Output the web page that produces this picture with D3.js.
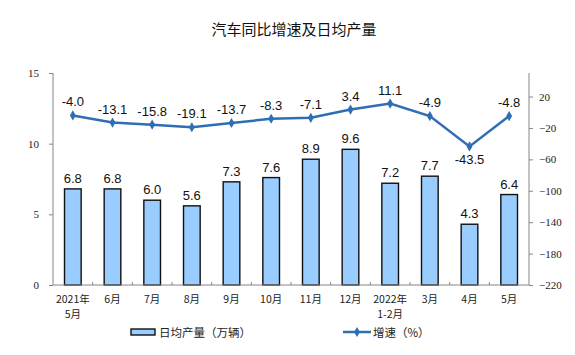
<!DOCTYPE html>
<html><head><meta charset="utf-8">
<script src="https://cdn.jsdelivr.net/npm/d3@7"></script>
<style>body{margin:0;background:#fff}</style>
</head><body>
<svg id="c" width="575" height="355"></svg>
<script>
const categories = [["2021年","5月"],["6月"],["7月"],["8月"],["9月"],["10月"],["11月"],["12月"],["2022年","1-2月"],["3月"],["4月"],["5月"]];
const dailyOutput = [6.8, 6.8, 6.0, 5.6, 7.3, 7.6, 8.9, 9.6, 7.2, 7.7, 4.3, 6.4];
const growth = [-4.0, -13.1, -15.8, -19.1, -13.7, -8.3, -7.1, 3.4, 11.1, -4.9, -43.5, -4.8];
const leftTicks = [0, 5, 10, 15];
const rightTicks = [20, -20, -60, -100, -140, -180, -220];
const title = "汽车同比增速及日均产量";
const legendBar = "日均产量（万辆）";
const legendLine = "增速（%）";

const svg = d3.select("#c");
const L = 53, R = 529, T = 73, B = 285;
const axisColor = "#868686";
const lineColor = "#2F6DB5";
const cjk = "'Noto Sans CJK SC', sans-serif";
const serif = "'Liberation Serif', 'DejaVu Serif', serif";
const sans = "'Liberation Sans', Arial, sans-serif";

const x = d3.scaleBand().domain(d3.range(categories.length)).range([L, R]).paddingInner(0).paddingOuter(0);
const yL = d3.scaleLinear().domain([0, 15]).range([B, T]);
const yR = d3.scaleLinear().domain([-220, 50]).range([B, T]);

svg.append("text").attr("x", 294).attr("y", 35).attr("text-anchor", "middle")
  .style("font-family", cjk).style("font-size", "15px").attr("fill", "#111").text(title);

// left axis
const gl = svg.append("g").attr("transform", `translate(${L},0)`)
  .call(d3.axisLeft(yL).tickValues(leftTicks).tickSize(4).tickPadding(10).tickFormat(d3.format("d")));
gl.select(".domain").attr("stroke", axisColor).attr("d", `M0,${T}V${B}`);
gl.selectAll(".tick line").attr("stroke", axisColor);
gl.selectAll(".tick text").style("font-family", serif).style("font-size", "11px").attr("fill", "#222");

// right axis
const gr = svg.append("g").attr("transform", `translate(${R},0)`)
  .call(d3.axisRight(yR).tickValues(rightTicks).tickSize(4).tickPadding(6).tickFormat(d3.format("d")));
gr.select(".domain").attr("stroke", axisColor).attr("d", `M0,${T}V${B}`);
gr.selectAll(".tick line").attr("stroke", axisColor);
gr.selectAll(".tick text").style("font-family", serif).style("font-size", "11px").attr("fill", "#222");

// bars
const bw = x.bandwidth() * 0.42;
svg.append("g").selectAll("rect").data(dailyOutput).join("rect")
  .attr("x", (d, i) => x(i) + x.bandwidth() / 2 - bw / 2)
  .attr("y", d => yL(d))
  .attr("width", bw)
  .attr("height", d => B - yL(d))
  .attr("fill", "#99CCFF").attr("stroke", "#111").attr("stroke-width", 1.4);

// bottom axis
const gb = svg.append("g");
gb.append("line").attr("x1", L).attr("x2", R).attr("y1", B).attr("y2", B).attr("stroke", axisColor);
gb.selectAll("line.t").data(d3.range(1, categories.length)).join("line").attr("class", "t")
  .attr("x1", i => x(i)).attr("x2", i => x(i)).attr("y1", B).attr("y2", B - 3).attr("stroke", axisColor);
const labelRows = [];
categories.forEach((d, i) => d.forEach((s, k) => labelRows.push({ s, i, k })));
gb.selectAll("text").data(labelRows).join("text")
  .attr("text-anchor", "middle")
  .attr("x", d => x(d.i) + x.bandwidth() / 2)
  .attr("y", d => 303 + d.k * 15)
  .style("font-family", cjk).style("font-size", "10.5px").attr("fill", "#222")
  .text(d => d.s);

// bar labels
svg.append("g").selectAll("text").data(dailyOutput).join("text")
  .attr("x", (d, i) => x(i) + x.bandwidth() / 2).attr("y", d => yL(d) - 6)
  .attr("text-anchor", "middle").style("font-family", sans).style("font-size", "13px").attr("fill", "#111")
  .text(d => d.toFixed(1));

// line
const cx = i => x(i) + x.bandwidth() / 2;
svg.append("path").datum(growth)
  .attr("d", d3.line().x((d, i) => cx(i)).y(d => yR(d)))
  .attr("fill", "none").attr("stroke", lineColor).attr("stroke-width", 2.5);
svg.append("g").selectAll("path").data(growth).join("path")
  .attr("transform", (d, i) => `translate(${cx(i)},${yR(d)})`)
  .attr("d", d3.symbol(d3.symbolDiamond, 30)).attr("fill", lineColor);

svg.append("g").selectAll("text").data(growth).join("text")
  .attr("x", (d, i) => cx(i))
  .attr("y", (d, i) => i === 10 ? yR(d) + 18 : yR(d) - 9)
  .attr("text-anchor", "middle").style("font-family", sans).style("font-size", "13px").attr("fill", "#111")
  .text(d => d.toFixed(1));

// legend
const lg = svg.append("g");
lg.append("rect").attr("x", 131).attr("y", 329).attr("width", 24).attr("height", 6)
  .attr("fill", "#99CCFF").attr("stroke", "#111").attr("stroke-width", 1.4);
lg.append("text").attr("x", 159).attr("y", 336.5).style("font-family", cjk).style("font-size", "11.5px").attr("fill", "#222").text(legendBar);
lg.append("line").attr("x1", 343).attr("x2", 371).attr("y1", 332).attr("y2", 332).attr("stroke", lineColor).attr("stroke-width", 2.5);
lg.append("path").attr("transform", "translate(357,332)").attr("d", d3.symbol(d3.symbolDiamond, 30)).attr("fill", lineColor);
lg.append("text").attr("x", 373).attr("y", 336.5).style("font-family", cjk).style("font-size", "11.5px").attr("fill", "#222").text(legendLine);
</script>
</body></html>
